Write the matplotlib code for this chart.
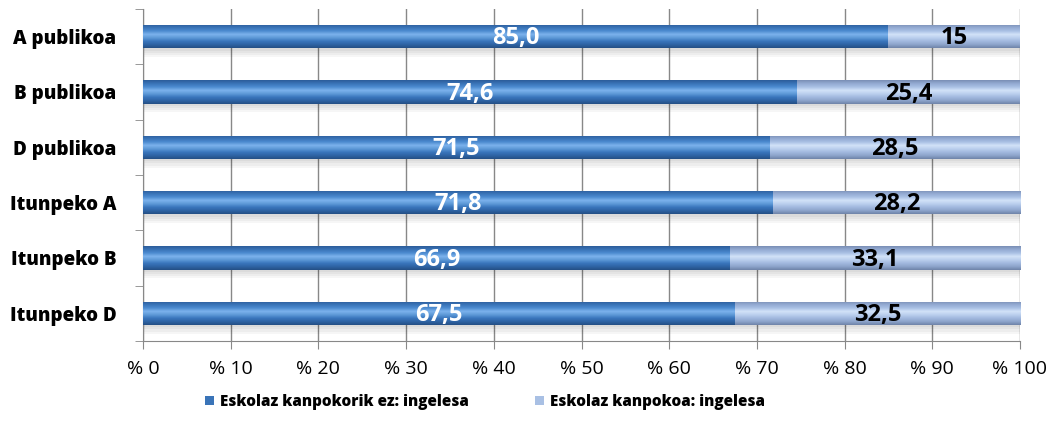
import matplotlib.pyplot as plt
import numpy as np
from matplotlib.patches import Rectangle
from matplotlib.colors import LinearSegmentedColormap

categories = ['A publikoa', 'B publikoa', 'D publikoa', 'Itunpeko A', 'Itunpeko B', 'Itunpeko D']
ez_kanpo = [85.0, 74.6, 71.5, 71.8, 66.9, 67.5]
kanpo = [15, 25.4, 28.5, 28.2, 33.1, 32.5]
ez_labels = ['85,0', '74,6', '71,5', '71,8', '66,9', '67,5']
kanpo_labels = ['15', '25,4', '28,5', '28,2', '33,1', '32,5']
series_names = ['Eskolaz kanpokorik ez: ingelesa', 'Eskolaz kanpokoa: ingelesa']
ticks = np.arange(0, 101, 10)
tick_labels = ['% ' + str(t) for t in ticks]

# gradientak, goitik behera
dark_grad = ['#2c5d9a', '#3a74b8', '#4c8bd0', '#7cb2ec', '#5e9ad8', '#3a76bd', '#2f64a5', '#254f85']
light_grad = ['#7a8fb5', '#94abd3', '#a9c0e4', '#d2e2f8', '#bcd0ee', '#a2b9df', '#8ea5cc', '#6f84a9']

fig = plt.figure(figsize=(10.57, 4.41), dpi=100)
ax = fig.add_axes([143 / 1057, 1 - 341 / 441, 877 / 1057, 332 / 441])

y = np.arange(len(categories))
h = 0.42


def gradient_bars(bars, colors):
    cmap = LinearSegmentedColormap.from_list('g', colors)
    grad = np.linspace(0, 1, 64).reshape(-1, 1)
    for b in bars:
        x0, y0 = b.get_x(), b.get_y()
        w, hh = b.get_width(), b.get_height()
        # itzala barraren azpian
        for k in range(4):
            ax.add_patch(Rectangle((x0, y0 + hh), w, 0.04 * (k + 1), color='#000000',
                                   alpha=0.035, zorder=1, lw=0))
        im = ax.imshow(grad, extent=[x0, x0 + w, y0 + hh, y0], aspect='auto', cmap=cmap, zorder=3)
        im.set_clip_path(b)


b1 = ax.barh(y, ez_kanpo, height=h, color='#3a74b8', zorder=2)
b2 = ax.barh(y, kanpo, left=ez_kanpo, height=h, color='#a9c0e4', zorder=2)
gradient_bars(b1, dark_grad)
gradient_bars(b2, light_grad)

for i in range(len(categories)):
    ax.text(ez_kanpo[i] / 2, y[i] + 0.03, ez_labels[i], ha='center', va='center', color='white',
            fontsize=17, fontweight='bold', family='Open Sans', zorder=5)
    ax.text(ez_kanpo[i] + kanpo[i] / 2, y[i] + 0.03, kanpo_labels[i], ha='center', va='center', color='black',
            fontsize=17, fontweight='bold', family='Open Sans', zorder=5)

ax.set_xlim(0, 100)
ax.set_ylim(len(categories) - 0.5, -0.5)
ax.set_xticks(ticks)
ax.set_xticklabels(tick_labels, family='Open Sans', fontsize=14)
ax.set_yticks(y)
ax.set_yticklabels(categories, family='Open Sans', fontweight='heavy', fontsize=13.5)
ax.tick_params(axis='y', length=0, pad=19)
ax.set_yticks(np.arange(-0.5, len(categories)), minor=True)
ax.tick_params(axis='y', which='minor', length=6, color='#888888')
ax.tick_params(axis='x', length=6, color='#888888', pad=8)
ax.grid(axis='x', color='#888888', lw=1, zorder=0)
ax.set_axisbelow(True)
for s in ['top', 'right']:
    ax.spines[s].set_visible(False)
for s in ['left', 'bottom']:
    ax.spines[s].set_color('#888888')

leg = fig.legend([b1, b2], series_names, loc='center', bbox_to_anchor=(485 / 1057, 1 - 402 / 441), ncol=2,
                 frameon=False, prop={'family': 'Open Sans', 'weight': 'heavy', 'size': 11},
                 handlelength=0.6, handleheight=0.6, columnspacing=4.3, handletextpad=0.4)

fig.savefig('out.png', dpi=100)
